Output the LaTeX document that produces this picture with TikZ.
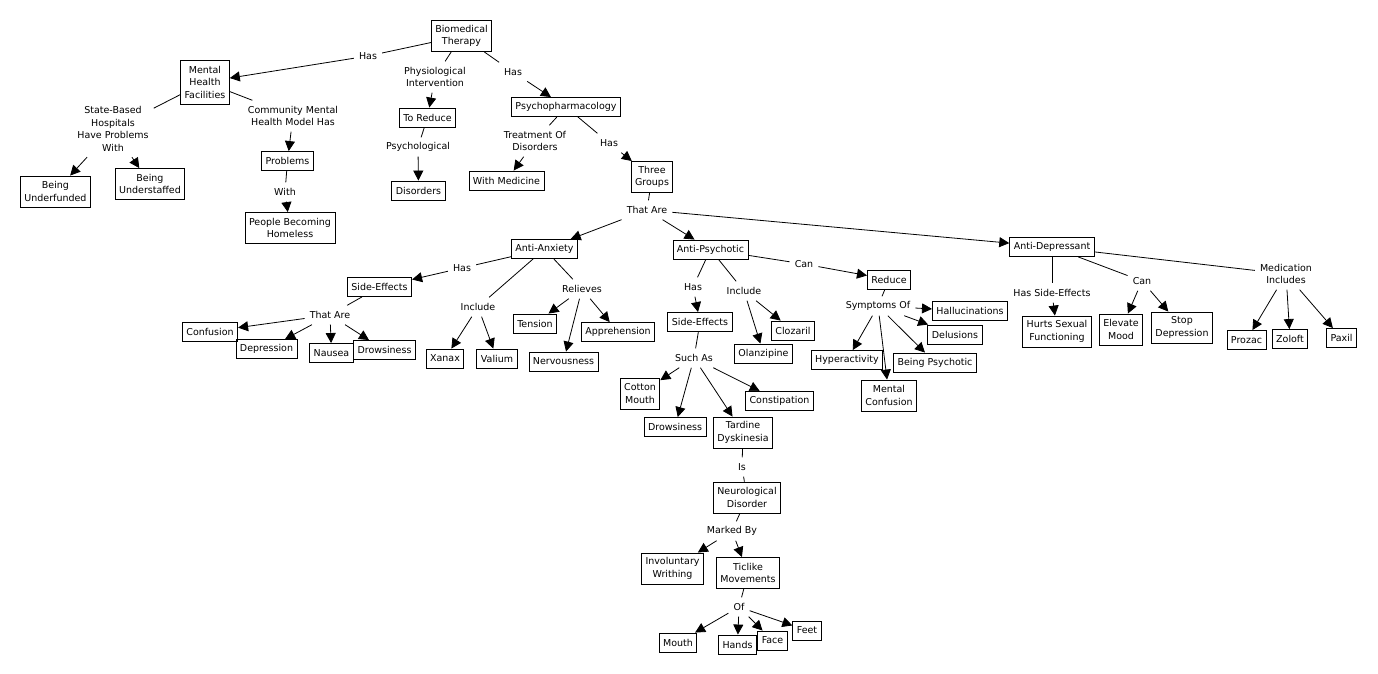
\documentclass[tikz,border=0pt]{standalone}
\usepackage{fontspec}
\usetikzlibrary{arrows.meta}
\newfontfamily\mapfam{DejaVu Sans}
\newcommand\mapfont{\mapfam\fontsize{9.5}{12.5}\selectfont}
\tikzset{
  concept/.style={draw, line width=0.9pt, inner xsep=4pt, inner ysep=2pt, minimum height=19pt, align=center, font=\mapfont},
  ctwo/.style={concept, minimum height=31pt},
  cthree/.style={concept, minimum height=44pt},
  lnk/.style={inner xsep=5pt, inner ysep=2pt, minimum height=19pt, align=center, font=\mapfont},
  conn/.style={line width=0.8pt},
  arr/.style={line width=0.8pt, -{Triangle[length=10pt,width=10pt]}},
}
\begin{document}
\begin{tikzpicture}[x=1pt,y=-1pt]
\fill[white] (0,0) rectangle (1378,673);
\useasboundingbox (0,0) rectangle (1378,673);
% concepts
\node[ctwo] (bt) at (461.5,36) {Biomedical\\Therapy};
\node[cthree] (mhf) at (205,82) {Mental\\Health\\Facilities};
\node[ctwo] (bu) at (55.5,191.5) {Being\\Underfunded};
\node[ctwo] (bs) at (150,184) {Being\\Understaffed};
\node[concept] (prob) at (287.5,161) {Problems};
\node[ctwo] (pbh) at (290,228) {People Becoming\\Homeless};
\node[concept] (tr) at (427.5,117.5) {To Reduce};
\node[concept] (dis) at (418.5,190.5) {Disorders};
\node[concept] (pp) at (566,107) {Psychopharmacology};
\node[concept] (wm) at (506.5,180.5) {With Medicine};
\node[ctwo] (tg) at (652,177) {Three\\Groups};
\node[concept] (aa) at (544.5,249) {Anti-Anxiety};
\node[concept] (ap) at (710.5,249.5) {Anti-Psychotic};
\node[concept] (ad) at (1052,247) {Anti-Depressant};
\node[concept] (se1) at (379.5,287) {Side-Effects};
\node[concept] (conf) at (210,331.5) {Confusion};
\node[concept] (dep) at (266.5,349) {Depression};
\node[concept] (nau) at (331.5,353) {Nausea};
\node[concept] (drw1) at (384.5,350) {Drowsiness};
\node[concept] (xan) at (445,358.5) {Xanax};
\node[concept] (val) at (497,358.5) {Valium};
\node[concept] (ten) at (535,323.5) {Tension};
\node[concept] (ner) at (563.5,361.5) {Nervousness};
\node[concept] (app) at (618,332) {Apprehension};
\node[concept] (se2) at (700,322) {Side-Effects};
\node[concept] (cloz) at (793,330.5) {Clozaril};
\node[concept] (olan) at (763.5,353.5) {Olanzipine};
\node[concept] (red) at (889,279.5) {Reduce};
\node[concept] (hall) at (970,311) {Hallucinations};
\node[concept] (del) at (955,334.5) {Delusions};
\node[concept] (hyp) at (847,360) {Hyperactivity};
\node[concept] (bp) at (935,362.5) {Being Psychotic};
\node[ctwo] (mc) at (889,395.5) {Mental\\Confusion};
\node[ctwo] (cm) at (640,393.5) {Cotton\\Mouth};
\node[concept] (const) at (779.5,401) {Constipation};
\node[concept] (drw2) at (675,427) {Drowsiness};
\node[ctwo] (td) at (743,432.5) {Tardine\\Dyskinesia};
\node[ctwo] (nd) at (747,497.5) {Neurological\\Disorder};
\node[ctwo] (iw) at (672.5,568.5) {Involuntary\\Writhing};
\node[ctwo] (tm) at (748,573) {Ticlike\\Movements};
\node[concept] (mouth) at (678,642.5) {Mouth};
\node[concept] (hands) at (737.5,644.5) {Hands};
\node[concept] (face) at (772.5,640.5) {Face};
\node[concept] (feet) at (807,630.5) {Feet};
\node[ctwo] (hsf) at (1057,331.5) {Hurts Sexual\\Functioning};
\node[ctwo] (em) at (1121,329.5) {Elevate\\Mood};
\node[ctwo] (sd) at (1182,327.5) {Stop\\Depression};
\node[concept] (proz) at (1246.5,340) {Prozac};
\node[concept] (zol) at (1290,339) {Zoloft};
\node[concept] (pax) at (1341.5,338) {Paxil};
% link labels
\node[lnk] (l1) at (368,56) {Has};
\node[lnk, minimum height=31pt] (l2) at (435,77) {Physiological\\Intervention};
\node[lnk] (l3) at (418,147) {Psychological};
\node[lnk] (l4) at (513,72) {Has};
\node[lnk, minimum height=31pt] (l5) at (535,141) {Treatment Of\\Disorders};
\node[lnk] (l6) at (609,143) {Has};
\node[lnk] (l7) at (647,210) {That Are};
\node[lnk, minimum height=56pt] (l8) at (113,129) {State-Based\\Hospitals\\Have Problems\\With};
\node[lnk, minimum height=31pt] (l9) at (293,116) {Community Mental\\Health Model Has};
\node[lnk] (l10) at (285,192) {With};
\node[lnk] (l11) at (462,268) {Has};
\node[lnk] (l12) at (330,315) {That Are};
\node[lnk] (l13) at (478,307) {Include};
\node[lnk] (l14) at (582,289) {Relieves};
\node[lnk] (l15) at (693,287) {Has};
\node[lnk] (l16) at (744,291) {Include};
\node[lnk] (l17) at (804,264) {Can};
\node[lnk] (l18) at (878,306) {Symptoms Of};
\node[lnk] (l19) at (694,358) {Such As};
\node[lnk] (l20) at (742,467) {Is};
\node[lnk] (l21) at (732,531) {Marked By};
\node[lnk] (l22) at (739,607) {Of};
\node[lnk] (l23) at (1052,293) {Has Side-Effects};
\node[lnk] (l24) at (1142,281) {Can};
\node[lnk, minimum height=31pt] (l25) at (1286,274) {Medication\\Includes};
% connections
\draw[conn] (bt) -- (l1); \draw[arr] (l1) -- (mhf);
\draw[conn] (bt) -- (l2); \draw[arr] (l2) -- (tr);
\draw[conn] (tr) -- (l3); \draw[arr] (l3) -- (dis);
\draw[conn] (bt) -- (l4); \draw[arr] (l4) -- (pp);
\draw[conn] (pp) -- (l5); \draw[arr] (l5) -- (wm);
\draw[conn] (pp) -- (l6); \draw[arr] (l6) -- (tg);
\draw[conn] (tg) -- (l7);
\foreach \t in {aa,ap,ad} \draw[arr] (l7) -- (\t);
\draw[conn] (mhf) -- (l8);
\foreach \t in {bu,bs} \draw[arr] (l8) -- (\t);
\draw[conn] (mhf) -- (l9); \draw[arr] (l9) -- (prob);
\draw[conn] (prob) -- (l10); \draw[arr] (l10) -- (pbh);
\draw[conn] (aa) -- (l11); \draw[arr] (l11) -- (se1);
\draw[conn] (se1) -- (l12);
\foreach \t in {conf,dep,nau,drw1} \draw[arr] (l12) -- (\t);
\draw[conn] (aa) -- (l13);
\foreach \t in {xan,val} \draw[arr] (l13) -- (\t);
\draw[conn] (aa) -- (l14);
\foreach \t in {ten,ner,app} \draw[arr] (l14) -- (\t);
\draw[conn] (ap) -- (l15); \draw[arr] (l15) -- (se2);
\draw[conn] (ap) -- (l16);
\foreach \t in {cloz,olan} \draw[arr] (l16) -- (\t);
\draw[conn] (ap) -- (l17); \draw[arr] (l17) -- (red);
\draw[conn] (red) -- (l18);
\foreach \t in {hall,del,hyp,mc,bp} \draw[arr] (l18) -- (\t);
\draw[conn] (se2) -- (l19);
\foreach \t in {cm,drw2,td,const} \draw[arr] (l19) -- (\t);
\draw[conn] (td) -- (l20); \draw[conn] (l20) -- (nd);
\draw[conn] (nd) -- (l21);
\foreach \t in {iw,tm} \draw[arr] (l21) -- (\t);
\draw[conn] (tm) -- (l22);
\foreach \t in {mouth,hands,face,feet} \draw[arr] (l22) -- (\t);
\draw[conn] (ad) -- (l23); \draw[arr] (l23) -- (hsf);
\draw[conn] (ad) -- (l24);
\foreach \t in {em,sd} \draw[arr] (l24) -- (\t);
\draw[conn] (ad) -- (l25);
\foreach \t in {proz,zol,pax} \draw[arr] (l25) -- (\t);
\end{tikzpicture}
\end{document}
